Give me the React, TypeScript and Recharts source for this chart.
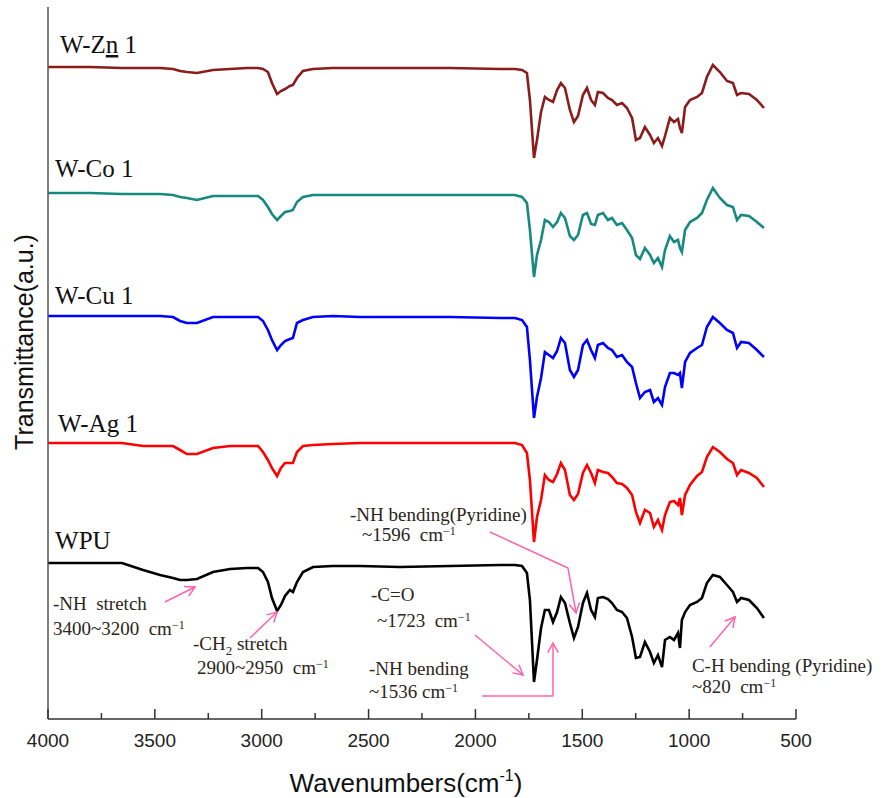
import React from 'react';
import { LineChart, Line, XAxis, YAxis, ReferenceLine, ReferenceDot } from 'recharts';

// wavenumber grid (cm-1) the spectra were read at
const wavenumbers = [
  4000, 3803, 3654, 3555, 3476, 3415, 3382, 3350, 3303, 3228,
  3148, 3069, 3017, 2994, 2971, 2952, 2928, 2910, 2891, 2868,
  2854, 2835, 2807, 2760, 2667, 2540, 2353, 2119, 1885, 1815,
  1782, 1759, 1745, 1726, 1712, 1693, 1675, 1656, 1637, 1618,
  1600, 1581, 1558, 1539, 1520, 1497, 1478, 1459, 1441, 1427,
  1403, 1380, 1361, 1338, 1314, 1291, 1267, 1249, 1230, 1207,
  1183, 1165, 1146, 1127, 1113, 1090, 1071, 1052, 1043, 1034,
  1019, 996, 963, 940, 917, 889, 856, 823, 795, 776,
  757, 720, 683, 650,
];

// transmittance (a.u., stacked with offsets as in the figure)
const wpu = [
  156, 156, 156, 149, 144, 141, 139, 139, 140, 147,
  150, 151, 151, 147, 137, 121, 108, 114, 123, 129,
  127, 137, 147, 152, 153, 153, 152, 153, 154, 154,
  153, 146, 119, 37, 59, 91, 109, 109, 97, 107,
  122, 116, 96, 81, 92, 116, 126, 109, 102, 121,
  122, 120, 116, 109, 107, 101, 82, 61, 62, 77,
  67, 56, 64, 52, 79, 82, 79, 86, 71, 99,
  107, 114, 117, 121, 136, 144, 142, 134, 127, 117,
  121, 119, 111, 101,
];

const wAg = [
  276, 276, 276, 273, 273, 273, 269, 265, 265, 271,
  273, 273, 273, 267, 259, 251, 243, 251, 256, 256,
  256, 267, 273, 274, 275, 276, 276, 276, 276, 276,
  274, 266, 239, 177, 202, 219, 244, 239, 237, 245,
  256, 249, 224, 219, 225, 246, 254, 246, 236, 249,
  247, 246, 242, 236, 235, 231, 224, 207, 196, 209,
  206, 192, 199, 189, 204, 217, 218, 214, 221, 204,
  224, 234, 243, 247, 262, 272, 267, 260, 256, 244,
  249, 246, 241, 232,
];

const wCu = [
  403, 403, 403, 403, 403, 402, 398, 396, 396, 402,
  402, 402, 402, 398, 389, 379, 369, 374, 378, 380,
  381, 396, 399, 402, 403, 402, 402, 402, 401, 401,
  399, 392, 359, 301, 322, 341, 367, 364, 361, 368,
  381, 376, 349, 342, 349, 374, 379, 369, 361, 374,
  376, 371, 369, 362, 364, 357, 352, 336, 321, 327,
  329, 317, 321, 314, 332, 346, 346, 344, 346, 331,
  357, 366, 371, 374, 392, 402, 396, 389, 386, 371,
  377, 376, 369, 362,
];

const wCo = [
  526, 526, 525, 525, 525, 524, 522, 521, 519, 523,
  523, 523, 523, 519, 512, 505, 499, 503, 507, 508,
  509, 517, 522, 524, 524, 524, 524, 524, 524, 524,
  522, 516, 489, 442, 464, 479, 499, 497, 492, 497,
  506, 501, 483, 479, 484, 504, 506, 495, 494, 504,
  506, 499, 501, 494, 496, 489, 481, 464, 460, 471,
  464, 456, 461, 452, 469, 483, 477, 479, 471, 467,
  489, 497, 501, 506, 519, 531, 521, 514, 512, 499,
  504, 503, 497, 491,
];

const wZn = [
  652, 652, 651, 651, 651, 650, 648, 647, 646, 649,
  650, 651, 651, 650, 647, 636, 625, 628, 630, 633,
  634, 641, 648, 650, 651, 651, 651, 651, 650, 650,
  649, 646, 619, 561, 579, 607, 622, 619, 617, 629,
  636, 631, 609, 597, 603, 624, 631, 619, 614, 627,
  626, 621, 619, 614, 616, 611, 601, 579, 581, 592,
  584, 576, 581, 573, 583, 601, 597, 600, 591, 586,
  612, 619, 622, 626, 642, 654, 647, 638, 636, 624,
  626, 625, 619, 611,
];

const xTicks = [4000, 3750, 3500, 3250, 3000, 2750, 2500, 2250, 2000, 1750, 1500, 1250, 1000, 750, 500];

const series = [
  { key: 'zn', name: 'W-Zn 1', color: '#8b1c1c' },
  { key: 'co', name: 'W-Co 1', color: '#168a80' },
  { key: 'cu', name: 'W-Cu 1', color: '#0000ff' },
  { key: 'ag', name: 'W-Ag 1', color: '#ff0000' },
  { key: 'wpu', name: 'WPU', color: '#000000' },
];

// where each sample name sits (wavenumber, a.u.)
const seriesLabels = [
  { key: 'zn', wn: 3944, v: 666 },
  { key: 'co', wn: 3967, v: 542 },
  { key: 'cu', wn: 3967, v: 415 },
  { key: 'ag', wn: 3953, v: 287 },
  { key: 'wpu', wn: 3967, v: 170 },
];

// annotation text lines: pre + (sub | sup) + post
const notes = [
  { wn: 3977, v: 109, pre: '-NH  stretch' },
  { wn: 3977, v: 84, pre: '3400~3200  cm', sup: '\u22121' },
  { wn: 3322, v: 69, pre: '-CH', sub: '2', post: ' stretch' },
  { wn: 3303, v: 45, pre: '2900~2950  cm', sup: '\u22121' },
  { wn: 2489, v: 118, pre: '-C=O' },
  { wn: 2461, v: 92, pre: '~1723  cm', sup: '\u22121' },
  { wn: 2498, v: 44, pre: '-NH bending' },
  { wn: 2498, v: 21, pre: '~1536 cm', sup: '\u22121' },
  { wn: 2587, v: 198, pre: '-NH bending(Pyridine)' },
  { wn: 2531, v: 178, pre: '~1596  cm', sup: '\u22121' },
  { wn: 987, v: 47, pre: 'C-H bending (Pyridine)' },
  { wn: 987, v: 26, pre: '~820  cm', sup: '\u22121' },
];

// pink pointer segments, [wn, a.u.] from -> to
const arrows = [
  { from: [3453, 117], to: [3312, 132], head: true },
  { from: [3055, 81], to: [2928, 107], head: true },
  { from: [2002, 84], to: [1777, 44], head: true },
  { from: [1969, 23], to: [1637, 23], head: false },
  { from: [1637, 23], to: [1637, 76], head: true },
  { from: [1932, 187], to: [1567, 151], head: false },
  { from: [1567, 151], to: [1529, 106], head: true },
  { from: [903, 72], to: [785, 102], head: true },
];

const chartData = wavenumbers.map((wn, i) => ({
  wn,
  wpu: wpu[i],
  ag: wAg[i],
  cu: wCu[i],
  co: wCo[i],
  zn: wZn[i],
}));

const SERIF = '"Liberation Serif", "Times New Roman", serif';
const SANS = '"Liberation Sans", Arial, sans-serif';
const PINK = '#ff64a8';

const WaveTick = (props: any) => {
  const { x, y, payload } = props;
  const major = payload.value % 500 === 0;
  return (
    <g>
      <line x1={x} x2={x} y1={y} y2={y - (major ? 10 : 6)} stroke="#333" strokeWidth={1.5} />
      {major && (
        <text x={x} y={y + 28} textAnchor="middle" fontFamily={SANS} fontSize={19} fill="#222">
          {payload.value}
        </text>
      )}
    </g>
  );
};

const arrowShape = (head: boolean) => (p: any) => {
  const { x1, y1, x2, y2 } = p;
  const a = Math.atan2(y2 - y1, x2 - x1);
  const len = 11;
  const spread = 0.5;
  const hx1 = x2 - len * Math.cos(a - spread);
  const hy1 = y2 - len * Math.sin(a - spread);
  const hx2 = x2 - len * Math.cos(a + spread);
  const hy2 = y2 - len * Math.sin(a + spread);
  return (
    <g>
      <line x1={x1} y1={y1} x2={x2} y2={y2} stroke={PINK} strokeWidth={1.5} />
      {head && (
        <polyline
          points={`${hx1},${hy1} ${x2},${y2} ${hx2},${hy2}`}
          fill="none"
          stroke={PINK}
          strokeWidth={1.5}
        />
      )}
    </g>
  );
};

const noteShape = (n: any) => (p: any) => (
  <text x={p.cx} y={p.cy} fontFamily={SERIF} fontSize={19} fill="#2a2520" style={{ whiteSpace: 'pre' }}>
    {n.pre}
    {n.sub && (
      <tspan dy={5} fontSize={13}>
        {n.sub}
      </tspan>
    )}
    {n.post && <tspan dy={-5}>{n.post}</tspan>}
    {n.sup && (
      <tspan dy={-6} fontSize={12}>
        {n.sup}
      </tspan>
    )}
  </text>
);

const labelShape = (key: string, name: string) => (p: any) => (
  <text x={p.cx} y={p.cy} fontFamily={SERIF} fontSize={25} fill="#111">
    {key === 'zn' ? (
      <>
        W-Z<tspan style={{ textDecoration: 'underline' }}>n</tspan> 1
      </>
    ) : (
      name
    )}
  </text>
);

const YTitle = () => (
  <text
    x={33}
    y={342}
    transform="rotate(-90 33 342)"
    textAnchor="middle"
    fontFamily={SANS}
    fontSize={25}
    fill="#111"
  >
    Transmittance(a.u.)
  </text>
);

const XTitle = () => (
  <text x={406} y={792} textAnchor="middle" fontFamily={SANS} fontSize={26} fill="#111">
    Wavenumbers(cm
    <tspan dy={-11} fontSize={16}>
      -1
    </tspan>
    <tspan dy={11}>)</tspan>
  </text>
);

export default function App() {
  return (
    <div style={{ position: 'absolute', left: 0, top: 0, width: 890, height: 798, background: '#fff' }}>
      <LineChart width={890} height={798} data={chartData} margin={{ top: 7, right: 94, bottom: 49, left: 0 }}>
        <XAxis
          dataKey="wn"
          type="number"
          domain={[500, 4000]}
          reversed
          ticks={xTicks}
          interval={0}
          tick={<WaveTick />}
          tickLine={false}
          tickSize={0}
          tickMargin={0}
          height={30}
          axisLine={{ stroke: '#333', strokeWidth: 1.5 }}
          label={{ content: <XTitle /> }}
        />
        <YAxis
          type="number"
          domain={[0, 712]}
          width={48}
          tick={false}
          tickLine={false}
          axisLine={{ stroke: '#555', strokeWidth: 1.5 }}
          label={{ content: <YTitle /> }}
        />
        {series.map((s) => (
          <Line
            key={s.key}
            dataKey={s.key}
            name={s.name}
            type="linear"
            stroke={s.color}
            strokeWidth={2.6}
            dot={false}
            activeDot={false}
            isAnimationActive={false}
          />
        ))}
        {seriesLabels.map((l) => {
          const s = series.find((q) => q.key === l.key)!;
          return <ReferenceDot key={l.key} x={l.wn} y={l.v} r={0} shape={labelShape(l.key, s.name)} />;
        })}
        {notes.map((n, i) => (
          <ReferenceDot key={'n' + i} x={n.wn} y={n.v} r={0} shape={noteShape(n)} />
        ))}
        {arrows.map((a, i) => (
          <ReferenceLine
            key={'a' + i}
            segment={[
              { x: a.from[0], y: a.from[1] },
              { x: a.to[0], y: a.to[1] },
            ]}
            shape={arrowShape(a.head)}
          />
        ))}
      </LineChart>
    </div>
  );
}
